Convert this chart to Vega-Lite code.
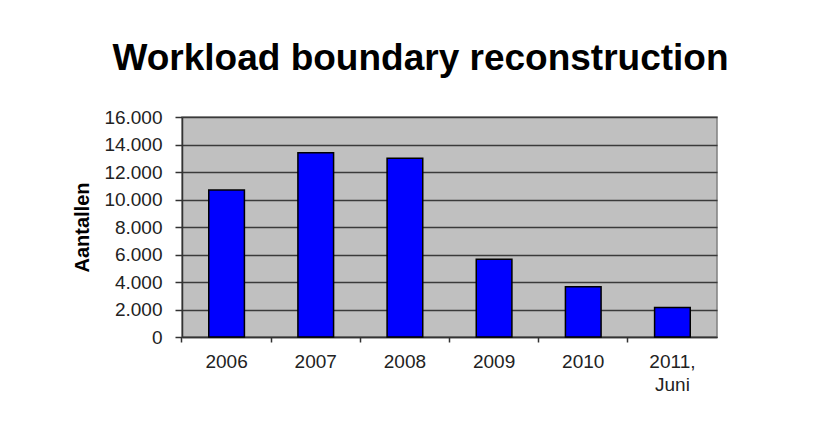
{
  "$schema": "https://vega.github.io/schema/vega-lite/v6.json",
  "autosize": "none",
  "width": 535,
  "height": 220,
  "padding": {"left": 182, "top": 117, "right": 106, "bottom": 95},
  "background": "#ffffff",
  "title": {
    "text": "Workload boundary reconstruction",
    "font": "Liberation Sans",
    "fontSize": 37,
    "fontWeight": "bold",
    "color": "#000000",
    "anchor": "middle",
    "baseline": "alphabetic",
    "offset": 36,
    "dx": -29,
    "dy": 35
  },
  "data": {
    "values": [
      {"jaar": "2006", "aantal": 10700},
      {"jaar": "2007", "aantal": 13400},
      {"jaar": "2008", "aantal": 13000},
      {"jaar": "2009", "aantal": 5650},
      {"jaar": "2010", "aantal": 3650},
      {"jaar": "2011, Juni", "aantal": 2150}
    ]
  },
  "mark": {"type": "bar", "fill": "#0000ff", "stroke": "#000000", "strokeWidth": 1.5},
  "encoding": {
    "x": {
      "field": "jaar",
      "type": "nominal",
      "sort": null,
      "scale": {"paddingInner": 0.6, "paddingOuter": 0.3},
      "axis": {
        "title": null,
        "labelAngle": 0,
        "labelExpr": "split(datum.label, ' ')",
        "labelLineHeight": 23,
        "bandPosition": -0.75,
        "tickSize": 5,
        "tickColor": "#333333",
        "tickWidth": 1.5,
        "domainColor": "#333333",
        "domainWidth": 1.5,
        "labelPadding": 10,
        "grid": false
      }
    },
    "y": {
      "field": "aantal",
      "type": "quantitative",
      "scale": {"domain": [0, 16000], "nice": false},
      "axis": {
        "title": "Aantallen",
        "titleFont": "Liberation Sans",
        "titleFontSize": 20,
        "titleFontWeight": "bold",
        "titleColor": "#000000",
        "titlePadding": 11,
        "values": [0, 2000, 4000, 6000, 8000, 10000, 12000, 14000, 16000],
        "labelExpr": "replace(format(datum.value, ','), ',', '.')",
        "tickSize": 7,
        "tickColor": "#333333",
        "tickWidth": 1.5,
        "domainColor": "#333333",
        "domainWidth": 1.5,
        "labelPadding": 13,
        "grid": true,
        "gridColor": "#3a3a3a",
        "gridWidth": 1.5
      }
    }
  },
  "config": {
    "view": {"fill": "#c0c0c0", "stroke": "#808080", "strokeWidth": 1.5},
    "axis": {
      "labelFont": "Liberation Sans",
      "labelFontSize": 19,
      "labelColor": "#222222"
    }
  }
}
